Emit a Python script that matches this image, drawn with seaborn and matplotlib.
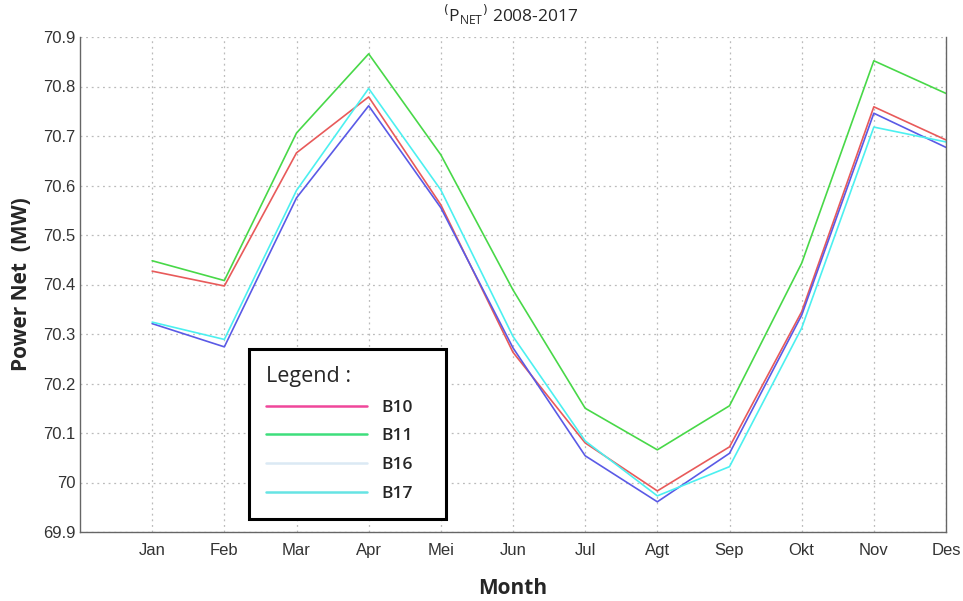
import matplotlib
matplotlib.use("Agg")
import matplotlib.pyplot as plt
from matplotlib.lines import Line2D
from matplotlib.ticker import FuncFormatter
import seaborn as sns
import pandas as pd

months = ["Jan", "Feb", "Mar", "Apr", "Mei", "Jun", "Jul", "Agt", "Sep", "Okt", "Nov", "Des"]
b10 = [70.427, 70.397, 70.666, 70.779, 70.561, 70.263, 70.080, 69.983, 70.072, 70.345, 70.759, 70.692]
b11 = [70.448, 70.408, 70.706, 70.866, 70.662, 70.389, 70.150, 70.066, 70.155, 70.443, 70.852, 70.786]
b16 = [70.321, 70.274, 70.575, 70.761, 70.555, 70.272, 70.054, 69.961, 70.059, 70.338, 70.746, 70.677]
b17 = [70.324, 70.289, 70.590, 70.796, 70.591, 70.295, 70.084, 69.973, 70.032, 70.312, 70.718, 70.688]
series_names = ["B10", "B11", "B16", "B17"]
line_colors = ["#e85a5a", "#48d848", "#5a5ae6", "#4cf0f0"]
legend_colors = ["#f0479a", "#3ede7c", "#dbe9f4", "#66e4e4"]
yticks = [69.9, 70.0, 70.1, 70.2, 70.3, 70.4, 70.5, 70.6, 70.7, 70.8, 70.9]

rows = []
for name, vals in zip(series_names, [b10, b11, b16, b17]):
    for i, v in enumerate(vals):
        rows.append({"pos": i + 1, "month": months[i], "value": v, "series": name})
df = pd.DataFrame(rows)

sns.set_style("white")
plt.rcParams["font.family"] = ["Liberation Sans", "DejaVu Sans"]

fig = plt.figure(figsize=(9.63, 6.01), dpi=100)
ax = fig.add_axes([80 / 963, 69 / 601, 866 / 963, 495 / 601])

sns.lineplot(data=df, x="pos", y="value", hue="series", palette=dict(zip(series_names, line_colors)),
             ax=ax, linewidth=1.2, legend=False, sort=False)

ax.set_xlim(0, 12)
ax.set_ylim(69.9, 70.9)
ax.set_xticks(range(1, 13))
ax.set_xticklabels(months)
ax.set_yticks(yticks)
ax.yaxis.set_major_formatter(FuncFormatter(lambda v, p: "%g" % round(v, 1)))
ax.tick_params(axis="both", direction="in", length=4, color="#555555", labelsize=12,
               labelcolor="#333333")
ax.tick_params(axis="x", pad=8)
ax.grid(True, linestyle=(0, (1.5, 3)), color="#bbbbbb", linewidth=0.9)

for s in ["left", "bottom", "right"]:
    ax.spines[s].set_color("#666666")
    ax.spines[s].set_linewidth(1.0)
ax.spines["top"].set_visible(False)

ax.set_xlabel("Month", fontsize=15, fontweight="bold", family=["Open Sans", "DejaVu Sans"], labelpad=14)
ax.set_ylabel("Power Net  (MW)", fontsize=15, fontweight="bold", family=["Open Sans", "DejaVu Sans"], labelpad=8)
fig.text(0.53, 0.975, r"$^{(}$P$_{\mathregular{NET}}$$^{)}$ 2008-2017", ha="center", va="center",
         fontsize=12.5, family=["Open Sans", "DejaVu Sans"])

handles = [Line2D([0], [0], color=c, linewidth=1.8) for c in legend_colors]
leg = ax.legend(handles, series_names, title="Legend :", loc="lower left",
                bbox_to_anchor=(169 / 866, 13 / 495, 197 / 866, 168 / 495), mode="expand",
                borderaxespad=0, frameon=True, fancybox=False, edgecolor="black", handlelength=5.8,
                handletextpad=0.8, labelspacing=0.72, borderpad=1.0,
                prop={"family": ["Open Sans", "DejaVu Sans"], "size": 12.5, "weight": "semibold"})
leg.get_title().set_fontsize(15.5)
leg.get_title().set_family(["Open Sans", "DejaVu Sans"])
leg.get_frame().set_linewidth(2.2)
leg.get_frame().set_facecolor("white")
leg.get_frame().set_alpha(1)
leg._legend_box.align = "left"

fig.savefig("out.png", dpi=100)
